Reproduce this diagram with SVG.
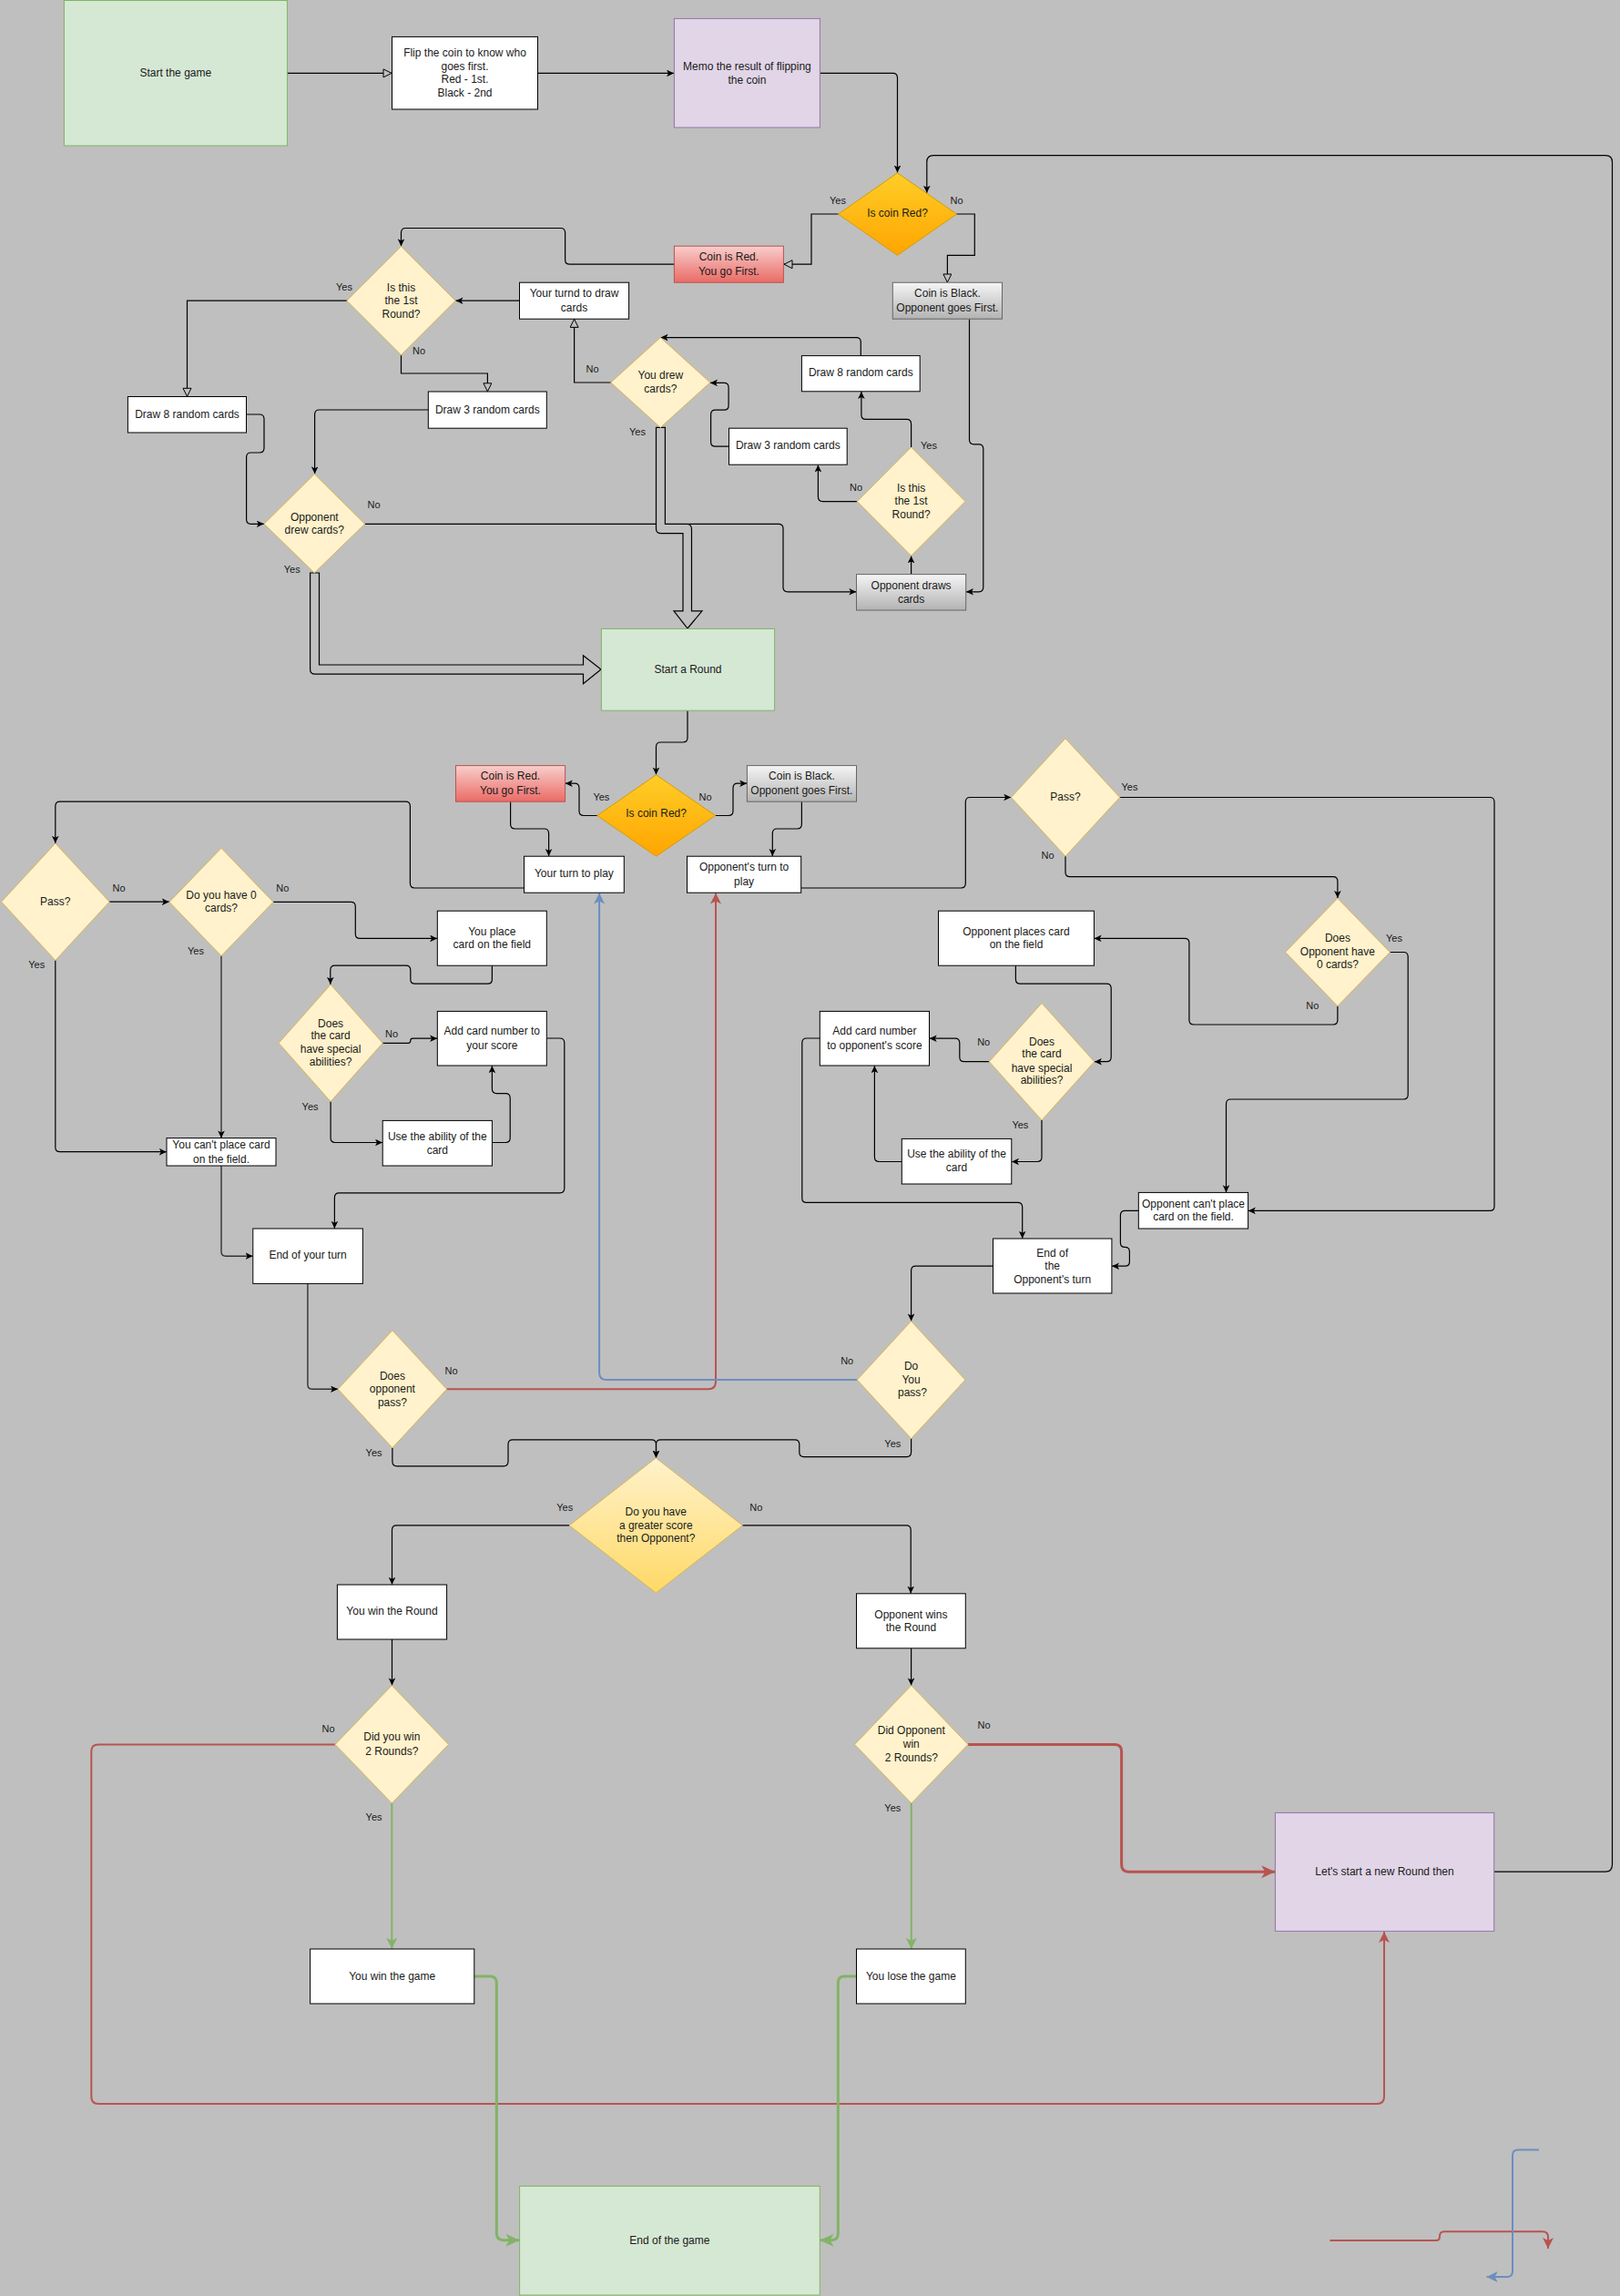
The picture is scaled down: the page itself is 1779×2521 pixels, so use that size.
<svg xmlns="http://www.w3.org/2000/svg" width="1779" height="2521" viewBox="0 0 1779 2521">
<style>
text{font-family:"Liberation Sans",Arial,sans-serif;fill:#1a1a1a;text-anchor:middle}
.node text{font-size:12px}
.lbl{font-size:11px}
.w{fill:#fff;stroke:#000;stroke-width:1}
.g{fill:#d5e8d4;stroke:#82b366;stroke-width:1}
.p{fill:#e1d5e7;stroke:#9673a6;stroke-width:1}
.r{fill:url(#gRed);stroke:#b85450;stroke-width:1}
.k{fill:url(#gGray);stroke:#666;stroke-width:1}
.y{fill:#fff2cc;stroke:#d6b656;stroke-width:1}
.o{fill:url(#gOr);stroke:#d79b00;stroke-width:1}
.yg{fill:url(#gYel);stroke:#d6b656;stroke-width:1}
.e{fill:none;stroke:#000;stroke-width:1.2}
.ef{marker-end:url(#af)}
.eo{marker-end:url(#ao)}
.red{fill:none;stroke:#b85450;stroke-width:2}
.blue{fill:none;stroke:#6c8ebf;stroke-width:2}
.grn{fill:none;stroke:#82b366;stroke-width:2}
.flex{fill:#bfbfbf;stroke:#000;stroke-width:1.2}
</style>
<defs>
<linearGradient id="gRed" x1="0" y1="0" x2="0" y2="1"><stop offset="0" stop-color="#f8cecc"/><stop offset="1" stop-color="#ea6b66"/></linearGradient>
<linearGradient id="gGray" x1="0" y1="0" x2="0" y2="1"><stop offset="0" stop-color="#f5f5f5"/><stop offset="1" stop-color="#b3b3b3"/></linearGradient>
<linearGradient id="gOr" x1="0" y1="0" x2="0" y2="1"><stop offset="0" stop-color="#ffcd28"/><stop offset="1" stop-color="#ffa500"/></linearGradient>
<linearGradient id="gYel" x1="0" y1="0" x2="0" y2="1"><stop offset="0" stop-color="#fff2cc"/><stop offset="1" stop-color="#ffd966"/></linearGradient>
<marker id="af" markerUnits="userSpaceOnUse" markerWidth="10" markerHeight="9" refX="8" refY="3.8" orient="auto"><path d="M0,0 L8,3.8 L0,7.6 L2,3.8 Z" fill="#000"/></marker>
<marker id="ao" markerUnits="userSpaceOnUse" markerWidth="12" markerHeight="12" refX="10" refY="5" orient="auto"><path d="M1,0.5 L10,5 L1,9.5 Z" fill="#bfbfbf" stroke="#000" stroke-width="1"/></marker>
<marker id="ar2" markerUnits="userSpaceOnUse" markerWidth="13" markerHeight="13" refX="12" refY="6" orient="auto"><path d="M0,0 L12,6 L0,12 L3,6 Z" fill="#b85450"/></marker>
<marker id="ar3" markerUnits="userSpaceOnUse" markerWidth="16" markerHeight="16" refX="15" refY="7" orient="auto"><path d="M0,0 L15,7 L0,14 L4,7 Z" fill="#b85450"/></marker>
<marker id="ab2" markerUnits="userSpaceOnUse" markerWidth="13" markerHeight="13" refX="12" refY="6" orient="auto"><path d="M0,0 L12,6 L0,12 L3,6 Z" fill="#6c8ebf"/></marker>
<marker id="ag2" markerUnits="userSpaceOnUse" markerWidth="13" markerHeight="13" refX="12" refY="6" orient="auto"><path d="M0,0 L12,6 L0,12 L3,6 Z" fill="#82b366"/></marker>
<marker id="ag3" markerUnits="userSpaceOnUse" markerWidth="16" markerHeight="16" refX="15" refY="7" orient="auto"><path d="M0,0 L15,7 L0,14 L4,7 Z" fill="#82b366"/></marker>
</defs>
<rect x="0" y="0" width="1779" height="2521" fill="#bfbfbf"/>

<g id="connectors">
<path class="e eo" d="M315,80.4 H430"/>
<path class="e ef" d="M590.4,80.4 H740"/>
<path class="e ef" d="M900.3,80.4 H980.5 Q985.5,80.4 985.5,85.4 V189.5"/>
<path class="e eo" d="M920.6,235 H891 V290.2 H861"/>
<path class="e eo" d="M1050.4,235 H1070.3 V280.4 H1040.4 V310"/>
<path class="e ef" d="M740.4,290.2 H625.6 Q620.6,290.2 620.6,285.2 V255.5 Q620.6,250.5 615.6,250.5 H445.5 Q440.5,250.5 440.5,255.5 V270.3"/>
<path class="e ef" d="M1064.5,350.2 V482.8 Q1064.5,487.8 1069.5,487.8 H1074.8 Q1079.8,487.8 1079.8,492.8 V644.8 Q1079.8,649.8 1074.8,649.8 H1061"/>
<path class="e ef" d="M570.5,330.2 H500.5"/>
<path class="e eo" d="M380.8,330.2 H205.5 V435.3"/>
<path class="e eo" d="M440.5,389.8 V410 H535.4 V429.8"/>
<path class="e ef" d="M470.3,450 H350.6 Q345.6,450 345.6,455 V520.3"/>
<path class="e ef" d="M270.5,455 H285 Q290,455 290,460 V492 Q290,497 285,497 H275.6 Q270.6,497 270.6,502 V570.3 Q270.6,575.3 275.6,575.3 H289.8"/>
<path class="e ef" d="M400.6,575.3 H855 Q860,575.3 860,580.3 V644.8 Q860,649.8 865,649.8 H940.3"/>
<path class="e eo" d="M670.7,420 H630.6 V350.4"/>
<path class="e ef" d="M945.3,390.6 V375.6 Q945.3,370.6 940.3,370.6 H725.6"/>
<path class="e ef" d="M800.5,490.2 H785.6 Q780.6,490.2 780.6,485.2 V455.2 Q780.6,450.2 785.6,450.2 H795.1 Q800.1,450.2 800.1,445.2 V425.4 Q800.1,420.4 795.1,420.4 H780"/>
<path class="e ef" d="M1000.6,491 V465.4 Q1000.6,460.4 995.6,460.4 H950.9 Q945.9,460.4 945.9,455.4 V430"/>
<path class="e ef" d="M941.3,550.6 H903.4 Q898.4,550.6 898.4,545.6 V510.4"/>
<path class="e ef" d="M1000.6,630.6 V610.4"/>
<path class="flex" d="M340.6,629 V735 Q340.6,740.2 346,740.2 H640.5 V750.8 L660,735 L640.5,719.8 V730 H350.5 V629 Z"/>
<path class="flex" d="M720.5,469.4 V580.5 Q720.5,585.7 726,585.7 H750 V670.8 H740 L755,690 L771,670.8 H759.5 V581 Q759.5,575.5 754,575.5 H730.4 V469.4 Z"/>
<path class="e ef" d="M1640.7,2055.2 H1763 Q1770.5,2055.2 1770.5,2047 V178 Q1770.5,170.6 1763,170.6 H1025 Q1017.8,170.6 1017.8,178 V211.8"/>
<path class="e ef" d="M755,780.2 V810 Q755,815 750,815 H725.5 Q720.5,815 720.5,820 V850.6"/>
<path class="e ef" d="M655.8,895.5 H641 Q636,895.5 636,890.5 V865.2 Q636,860.2 631,860.2 H620.8"/>
<path class="e ef" d="M785.5,895.5 H800 Q805,895.5 805,890.5 V865.2 Q805,860.2 810,860.2 H820.2"/>
<path class="e ef" d="M560.6,880.2 V905 Q560.6,910 565.6,910 H597.6 Q602.6,910 602.6,915 V940"/>
<path class="e ef" d="M880.4,880.2 V905 Q880.4,910 875.4,910 H853.3 Q848.3,910 848.3,915 V940"/>
<path class="e ef" d="M575.5,975 H455.4 Q450.4,975 450.4,970 V885.2 Q450.4,880.2 445.4,880.2 H65.8 Q60.8,880.2 60.8,885.2 V925.8"/>
<path class="e ef" d="M120.2,990.2 H185.8"/>
<path class="e ef" d="M60.8,1054.5 V1259.7 Q60.8,1264.7 65.8,1264.7 H182.8"/>
<path class="e ef" d="M300,990.4 H385.3 Q390.3,990.4 390.3,995.4 V1025.4 Q390.3,1030.4 395.3,1030.4 H480.1"/>
<path class="e ef" style="stroke:#444;stroke-width:1.6" d="M243,1049.6 V1249.4"/>
<path class="e ef" d="M540.4,1060.2 V1075.2 Q540.4,1080.2 535.4,1080.2 H455.8 Q450.8,1080.2 450.8,1075.2 V1065.2 Q450.8,1060.2 445.8,1060.2 H367.8 Q362.8,1060.2 362.8,1065.2 V1080.8"/>
<path class="e ef" d="M420.2,1145.3 H448.3 Q450.8,1145.3 450.8,1142.8 Q450.8,1140.2 453.3,1140.2 H480.1"/>
<path class="e ef" d="M363.1,1209.6 V1249.5 Q363.1,1254.5 368.1,1254.5 H420"/>
<path class="e ef" d="M540.4,1254.5 H555.2 Q560.2,1254.5 560.2,1249.5 V1205.6 Q560.2,1200.6 555.2,1200.6 H545.4 Q540.4,1200.6 540.4,1195.6 V1170.2"/>
<path class="e ef" d="M600.3,1140 H614.8 Q619.8,1140 619.8,1145 V1304.8 Q619.8,1309.8 614.8,1309.8 H372.4 Q367.4,1309.8 367.4,1314.8 V1348.8"/>
<path class="e ef" style="stroke:#333;stroke-width:1.4" d="M243,1280 V1374.2 Q243,1379.2 248,1379.2 H277.6"/>
<path class="e ef" style="stroke:#333;stroke-width:1.4" d="M337.9,1409.4 V1520.3 Q337.9,1525.3 342.9,1525.3 H371"/>
<path class="red" style="marker-end:url(#ar2)" d="M490.6,1525.3 H778 Q786,1525.3 786,1517 V980.6"/>
<path class="e ef" d="M430.9,1589.8 V1604.8 Q430.9,1609.8 435.9,1609.8 H553 Q558,1609.8 558,1604.8 V1585.8 Q558,1580.8 563,1580.8 H715.5 Q720.5,1580.8 720.5,1585.8 V1600.6"/>
<path class="e ef" d="M1000.6,1579.6 V1594.6 Q1000.6,1599.6 995.6,1599.6 H882.8 Q877.8,1599.6 877.8,1594.6 V1585.8 Q877.8,1580.8 872.8,1580.8 H725.5 Q720.5,1580.8 720.5,1585.8 V1600.6"/>
<path class="blue" style="marker-end:url(#ab2)" d="M941.3,1515.1 H666 Q658.1,1515.1 658.1,1507 V980.6"/>
<path class="e ef" d="M879.7,975 H1055.3 Q1060.3,975 1060.3,970 V880.5 Q1060.3,875.5 1065.3,875.5 H1110.2"/>
<path class="e ef" d="M1229.7,875.5 H1636 Q1641,875.5 1641,880.5 V1324.4 Q1641,1329.4 1636,1329.4 H1370.8"/>
<path class="e ef" d="M1170,940.2 V957.7 Q1170,962.7 1175,962.7 H1463.9 Q1468.9,962.7 1468.9,967.7 V986.1"/>
<path class="e ef" d="M1468.9,1104.7 V1120 Q1468.9,1125 1463.9,1125 H1310.9 Q1305.9,1125 1305.9,1120 V1035.4 Q1305.9,1030.4 1300.9,1030.4 H1201.6"/>
<path class="e ef" d="M1526.3,1045.5 H1541.2 Q1546.2,1045.5 1546.2,1050.5 V1202 Q1546.2,1207 1541.2,1207 H1351.5 Q1346.5,1207 1346.5,1212 V1309.2"/>
<path class="e ef" d="M1115.4,1060.2 V1075.2 Q1115.4,1080.2 1120.4,1080.2 H1215.2 Q1220.2,1080.2 1220.2,1085.2 V1160.7 Q1220.2,1165.7 1215.2,1165.7 H1201.9"/>
<path class="e ef" d="M1086.3,1165.7 H1058.8 Q1053.8,1165.7 1053.8,1160.7 V1145.2 Q1053.8,1140.2 1048.8,1140.2 H1020.7"/>
<path class="e ef" d="M1144,1230 V1270.5 Q1144,1275.5 1139,1275.5 H1111"/>
<path class="e ef" d="M990.3,1275.5 H965.4 Q960.4,1275.5 960.4,1270.5 V1170.2"/>
<path class="e ef" d="M900.3,1140 H885.8 Q880.8,1140 880.8,1145 V1315.4 Q880.8,1320.4 885.8,1320.4 H1117.7 Q1122.7,1320.4 1122.7,1325.4 V1359.8"/>
<path class="e ef" d="M1250.3,1329.4 H1235.4 Q1230.4,1329.4 1230.4,1334.4 V1364.4 Q1230.4,1369.4 1235.4,1369.4 Q1240.4,1369.4 1240.4,1374.4 V1385.2 Q1240.4,1390.2 1235.4,1390.2 H1221.1"/>
<path class="e ef" d="M1090.5,1390.2 H1005.6 Q1000.6,1390.2 1000.6,1395.2 V1450.4"/>
<path class="e ef" d="M625.2,1674.9 H435.5 Q430.5,1674.9 430.5,1679.9 V1739.8"/>
<path class="e ef" d="M815.4,1674.9 H995.2 Q1000.2,1674.9 1000.2,1679.9 V1749.6"/>
<path class="e ef" d="M430.5,1800 V1850.4"/>
<path class="e ef" d="M1000.6,1809.8 V1850.4"/>
<path class="grn" style="marker-end:url(#ag2)" d="M430.3,1980 V2139.8"/>
<path class="grn" style="marker-end:url(#ag2)" d="M1000.8,1980 V2139.8"/>
<path class="red" style="marker-end:url(#ar2)" d="M368.1,1915.6 H108 Q100.3,1915.6 100.3,1923 V2302 Q100.3,2310 108,2310 H1512 Q1520,2310 1520,2302 V2121"/>
<path class="red" style="stroke-width:3;marker-end:url(#ar3)" d="M1063,1915.6 H1224 Q1231.6,1915.6 1231.6,1923 V2047 Q1231.6,2055.2 1239,2055.2 H1400.2"/>
<path class="grn" style="stroke-width:3;marker-end:url(#ag3)" d="M520.8,2170 H538 Q545.3,2170 545.3,2177 V2452 Q545.3,2459.7 553,2459.7 H570.4"/>
<path class="grn" style="stroke-width:3;marker-end:url(#ag3)" d="M940.5,2170 H927.5 Q920.3,2170 920.3,2177 V2452 Q920.3,2459.7 913,2459.7 H900.5"/>
<path class="red" style="marker-end:url(#ar2)" d="M1460.4,2460.1 H1577 Q1581,2460.1 1581,2455.5 Q1581,2450.3 1586,2450.3 H1694 Q1700,2450.3 1700,2456 V2469"/>
<path class="blue" style="marker-end:url(#ab2)" d="M1690,2360.4 H1667 Q1661,2360.4 1661,2366.5 V2494 Q1661,2500 1655,2500 H1632.6"/>
</g>

<g id="edge-labels">
<text class="lbl" x="920" y="224">Yes</text>
<text class="lbl" x="1050.5" y="224">No</text>
<text class="lbl" x="378" y="319">Yes</text>
<text class="lbl" x="460" y="388.5">No</text>
<text class="lbl" x="410.6" y="558">No</text>
<text class="lbl" x="320.7" y="628.5">Yes</text>
<text class="lbl" x="650.5" y="408.5">No</text>
<text class="lbl" x="700" y="478">Yes</text>
<text class="lbl" x="1020" y="493.4">Yes</text>
<text class="lbl" x="940" y="538.7">No</text>
<text class="lbl" x="660.4" y="878.5">Yes</text>
<text class="lbl" x="774.5" y="878.5">No</text>
<text class="lbl" x="130.5" y="978.9">No</text>
<text class="lbl" x="40.2" y="1063.4">Yes</text>
<text class="lbl" x="310.4" y="978.9">No</text>
<text class="lbl" x="215" y="1048.3">Yes</text>
<text class="lbl" x="430.1" y="1138.5">No</text>
<text class="lbl" x="340.6" y="1218.5">Yes</text>
<text class="lbl" x="495.6" y="1508.5">No</text>
<text class="lbl" x="410.6" y="1598.7">Yes</text>
<text class="lbl" x="1240.5" y="868.3">Yes</text>
<text class="lbl" x="1150.6" y="943.4">No</text>
<text class="lbl" x="1531" y="1033.6">Yes</text>
<text class="lbl" x="1441.4" y="1108.3">No</text>
<text class="lbl" x="1080.2" y="1148.3">No</text>
<text class="lbl" x="1120.4" y="1238.5">Yes</text>
<text class="lbl" x="930.2" y="1498.3">No</text>
<text class="lbl" x="980.3" y="1588.5">Yes</text>
<text class="lbl" x="620.2" y="1658.7">Yes</text>
<text class="lbl" x="830.3" y="1658.7">No</text>
<text class="lbl" x="360.5" y="1902.4">No</text>
<text class="lbl" x="410.6" y="1998.5">Yes</text>
<text class="lbl" x="1080.6" y="1898.3">No</text>
<text class="lbl" x="980.3" y="1988.7">Yes</text>
</g>

<g id="n-start" class="node"><rect class="g" x="70.4" y="0.5" width="245" height="159.5"/><text x="192.8" y="83.6">Start the game</text></g>
<g id="n-flip" class="node"><rect class="w" x="430.5" y="40.4" width="160" height="79.6"/><text x="510.5" y="62.4">Flip the coin to know who</text><text x="510.5" y="76.7">goes first.</text><text x="510.5" y="91.3">Red - 1st.</text><text x="510.5" y="105.6">Black - 2nd</text></g>
<g id="n-memo" class="node"><rect class="p" x="740.4" y="20.4" width="160" height="119.6"/><text x="820.4" y="76.7">Memo the result of flipping</text><text x="820.4" y="91.8">the coin</text></g>
<g id="n-coinred1" class="node"><polygon class="o" points="985.5,189.9 1050.5,235.1 985.5,280.3 920.6,235.1"/><text x="985.5" y="237.5">Is coin Red?</text></g>
<g id="n-redbox1" class="node"><rect class="r" x="740.4" y="270.2" width="120" height="40"/><text x="800.4" y="286.4">Coin is Red.</text><text x="800.4" y="301.6">You go First.</text></g>
<g id="n-blackbox1" class="node"><rect class="k" x="980.3" y="310.2" width="120.2" height="40"/><text x="1040.4" y="326.4">Coin is Black.</text><text x="1040.4" y="341.6">Opponent goes First.</text></g>
<g id="n-yourdraw" class="node"><rect class="w" x="570.5" y="310.2" width="120.1" height="40"/><text x="630.5" y="326.4">Your turnd to draw</text><text x="630.5" y="341.6">cards</text></g>
<g id="n-round1l" class="node"><polygon class="y" points="440.5,270.6 500.2,330.2 440.5,389.8 380.8,330.2"/><text x="440.5" y="319.5">Is this</text><text x="440.5" y="333.8">the 1st</text><text x="440.5" y="348.5">Round?</text></g>
<g id="n-draw8l" class="node"><rect class="w" x="140.4" y="435.5" width="130.1" height="39.5"/><text x="205.5" y="459">Draw 8 random cards</text></g>
<g id="n-draw3l" class="node"><rect class="w" x="470.3" y="430" width="130" height="40.2"/><text x="535.3" y="453.8">Draw 3 random cards</text></g>
<g id="n-oppdrew" class="node"><polygon class="y" points="345.3,520.5 400.6,575.3 345.3,629 290,575.3"/><text x="345.3" y="571.8">Opponent</text><text x="345.3" y="586.4">drew cards?</text></g>
<g id="n-youdrew" class="node"><polygon class="y" points="725.3,370.6 779.8,420 725.3,469.4 670.7,420"/><text x="725.3" y="416">You drew</text><text x="725.3" y="431">cards?</text></g>
<g id="n-draw8r" class="node"><rect class="w" x="880.4" y="390.6" width="129.8" height="39.2"/><text x="945.3" y="413.4">Draw 8 random cards</text></g>
<g id="n-draw3r" class="node"><rect class="w" x="800.5" y="470.2" width="129.7" height="40"/><text x="865.3" y="493.4">Draw 3 random cards</text></g>
<g id="n-round1r" class="node"><polygon class="y" points="1000.6,491 1060,550.6 1000.6,610.2 941.3,550.6"/><text x="1000.6" y="539.5">Is this</text><text x="1000.6" y="553.8">the 1st</text><text x="1000.6" y="569">Round?</text></g>
<g id="n-oppdraws" class="node"><rect class="k" x="940.5" y="630.6" width="120.2" height="39.4"/><text x="1000.6" y="646.7">Opponent draws</text><text x="1000.6" y="661.8">cards</text></g>
<g id="n-startround" class="node"><rect class="g" x="660.4" y="690.4" width="190.2" height="89.8"/><text x="755.5" y="738.5">Start a Round</text></g>
<g id="n-coinred2" class="node"><polygon class="o" points="720.6,850.8 785.5,895.5 720.6,940.2 655.8,895.5"/><text x="720.6" y="897">Is coin Red?</text></g>
<g id="n-redbox2" class="node"><rect class="r" x="500.5" y="840.6" width="120.1" height="39.6"/><text x="560.5" y="856.4">Coin is Red.</text><text x="560.5" y="871.5">You go First.</text></g>
<g id="n-blackbox2" class="node"><rect class="k" x="820.4" y="840.6" width="120.1" height="39.6"/><text x="880.4" y="856.4">Coin is Black.</text><text x="880.4" y="871.5">Opponent goes First.</text></g>
<g id="n-yourturn" class="node"><rect class="w" x="575.5" y="940.2" width="109.8" height="40"/><text x="630.4" y="963.4">Your turn to play</text></g>
<g id="n-oppturn" class="node"><rect class="w" x="754.5" y="940.2" width="125.2" height="40"/><text x="817.1" y="956.4">Opponent's turn to</text><text x="817.1" y="971.6">play</text></g>
<g id="n-passyou" class="node"><polygon class="y" points="60.8,926 120.2,990.2 60.8,1054.5 1.5,990.2"/><text x="60.8" y="993.6">Pass?</text></g>
<g id="n-zeroyou" class="node"><polygon class="y" points="243,931.2 300,990.4 243,1049.6 186,990.4"/><text x="243" y="986.7">Do you have 0</text><text x="243" y="1001.3">cards?</text></g>
<g id="n-youplace" class="node"><rect class="w" x="480.3" y="1000.2" width="120" height="60"/><text x="540.3" y="1026.7">You place</text><text x="540.3" y="1041.3">card on the field</text></g>
<g id="n-cardyou" class="node"><polygon class="y" points="363.1,1081 420.2,1145.3 363.1,1209.6 306.1,1145.3"/><text x="363.1" y="1127.5">Does</text><text x="363.1" y="1141.3">the card</text><text x="363.1" y="1156.4">have special</text><text x="363.1" y="1170.2">abilities?</text></g>
<g id="n-addyou" class="node"><rect class="w" x="480.3" y="1110.4" width="120" height="59.6"/><text x="540.3" y="1136.4">Add card number to</text><text x="540.3" y="1151.6">your score</text></g>
<g id="n-useyou" class="node"><rect class="w" x="420.2" y="1230.4" width="120.2" height="49.6"/><text x="480.3" y="1251.6">Use the ability of the</text><text x="480.3" y="1267.3">card</text></g>
<g id="n-cantyou" class="node"><rect class="w" x="183" y="1249.6" width="120" height="30.4"/><text x="243" y="1261.3">You can't place card</text><text x="243" y="1276.7">on the field.</text></g>
<g id="n-endyou" class="node"><rect class="w" x="277.8" y="1349" width="120.6" height="60.4"/><text x="338.1" y="1382.4">End of your turn</text></g>
<g id="n-opppassq" class="node"><polygon class="y" points="430.9,1460.8 490.6,1525.3 430.9,1589.8 371.2,1525.3"/><text x="430.9" y="1514.6">Does</text><text x="430.9" y="1528.9">opponent</text><text x="430.9" y="1543.6">pass?</text></g>
<g id="n-passopp" class="node"><polygon class="y" points="1170,810.8 1229.7,875.5 1170,940.2 1110.4,875.5"/><text x="1170" y="878.5">Pass?</text></g>
<g id="n-zeroopp" class="node"><polygon class="y" points="1468.9,986.3 1526.3,1045.5 1468.9,1104.7 1411.5,1045.5"/><text x="1468.9" y="1034.4">Does</text><text x="1468.9" y="1048.7">Opponent have</text><text x="1468.9" y="1063.4">0 cards?</text></g>
<g id="n-oppplaces" class="node"><rect class="w" x="1030.5" y="1000.2" width="170.9" height="60"/><text x="1116" y="1026.7">Opponent places card</text><text x="1116" y="1041.3">on the field</text></g>
<g id="n-cardopp" class="node"><polygon class="y" points="1144,1101.4 1201.7,1165.7 1144,1230 1086.3,1165.7"/><text x="1144" y="1147.5">Does</text><text x="1144" y="1161.3">the card</text><text x="1144" y="1176.9">have special</text><text x="1144" y="1190.3">abilities?</text></g>
<g id="n-addopp" class="node"><rect class="w" x="900.3" y="1110.4" width="120.2" height="59.6"/><text x="960.4" y="1136.4">Add card number</text><text x="960.4" y="1151.6">to opponent's score</text></g>
<g id="n-useopp" class="node"><rect class="w" x="990.3" y="1250.4" width="120.5" height="49.6"/><text x="1050.5" y="1271.3">Use the ability of the</text><text x="1050.5" y="1286.4">card</text></g>
<g id="n-cantopp" class="node"><rect class="w" x="1250.3" y="1309.4" width="120.3" height="39.6"/><text x="1310.5" y="1325.6">Opponent can't place</text><text x="1310.5" y="1340.3">card on the field.</text></g>
<g id="n-endopp" class="node"><rect class="w" x="1090.5" y="1360" width="130.4" height="60"/><text x="1155.7" y="1379.5">End of</text><text x="1155.7" y="1393.8">the</text><text x="1155.7" y="1408.5">Opponent's turn</text></g>
<g id="n-youpassq" class="node"><polygon class="y" points="1000.6,1450.6 1060,1515.1 1000.6,1579.6 941.3,1515.1"/><text x="1000.6" y="1504.4">Do</text><text x="1000.6" y="1518.7">You</text><text x="1002" y="1533.4">pass?</text></g>
<g id="n-greater" class="node"><polygon class="yg" points="720.3,1600.8 815.4,1674.9 720.3,1749 625.2,1674.9"/><text x="720.3" y="1664.4">Do you have</text><text x="720.3" y="1678.7">a greater score</text><text x="720.3" y="1693.4">then Opponent?</text></g>
<g id="n-winround" class="node"><rect class="w" x="370.4" y="1740" width="120.2" height="60"/><text x="430.5" y="1773.4">You win the Round</text></g>
<g id="n-oppwinsround" class="node"><rect class="w" x="940.5" y="1749.8" width="119.8" height="60"/><text x="1000.4" y="1776.7">Opponent wins</text><text x="1000.4" y="1791.3">the Round</text></g>
<g id="n-didyouwin" class="node"><polygon class="y" points="430.3,1850.6 492.5,1915.4 430.3,1980 368.1,1915.4"/><text x="430.3" y="1911.4">Did you win</text><text x="430.3" y="1926.5">2 Rounds?</text></g>
<g id="n-didoppwin" class="node"><polygon class="y" points="1000.8,1850.6 1063,1915.4 1000.8,1980 938.6,1915.4"/><text x="1000.8" y="1904.4">Did Opponent</text><text x="1000.8" y="1918.8">win</text><text x="1000.8" y="1933.5">2 Rounds?</text></g>
<g id="n-wingame" class="node"><rect class="w" x="340.6" y="2140" width="180.2" height="60"/><text x="430.7" y="2173.5">You win the game</text></g>
<g id="n-losegame" class="node"><rect class="w" x="940.5" y="2140" width="119.8" height="60"/><text x="1000.4" y="2173.5">You lose the game</text></g>
<g id="n-endgame" class="node"><rect class="g" x="570.6" y="2400.4" width="329.7" height="119.6"/><text x="735.4" y="2463.7">End of the game</text></g>
<g id="n-newround" class="node"><rect class="p" x="1400.4" y="1990.4" width="240.3" height="130"/><text x="1520.5" y="2058.6">Let's start a new Round then</text></g>
</svg>
